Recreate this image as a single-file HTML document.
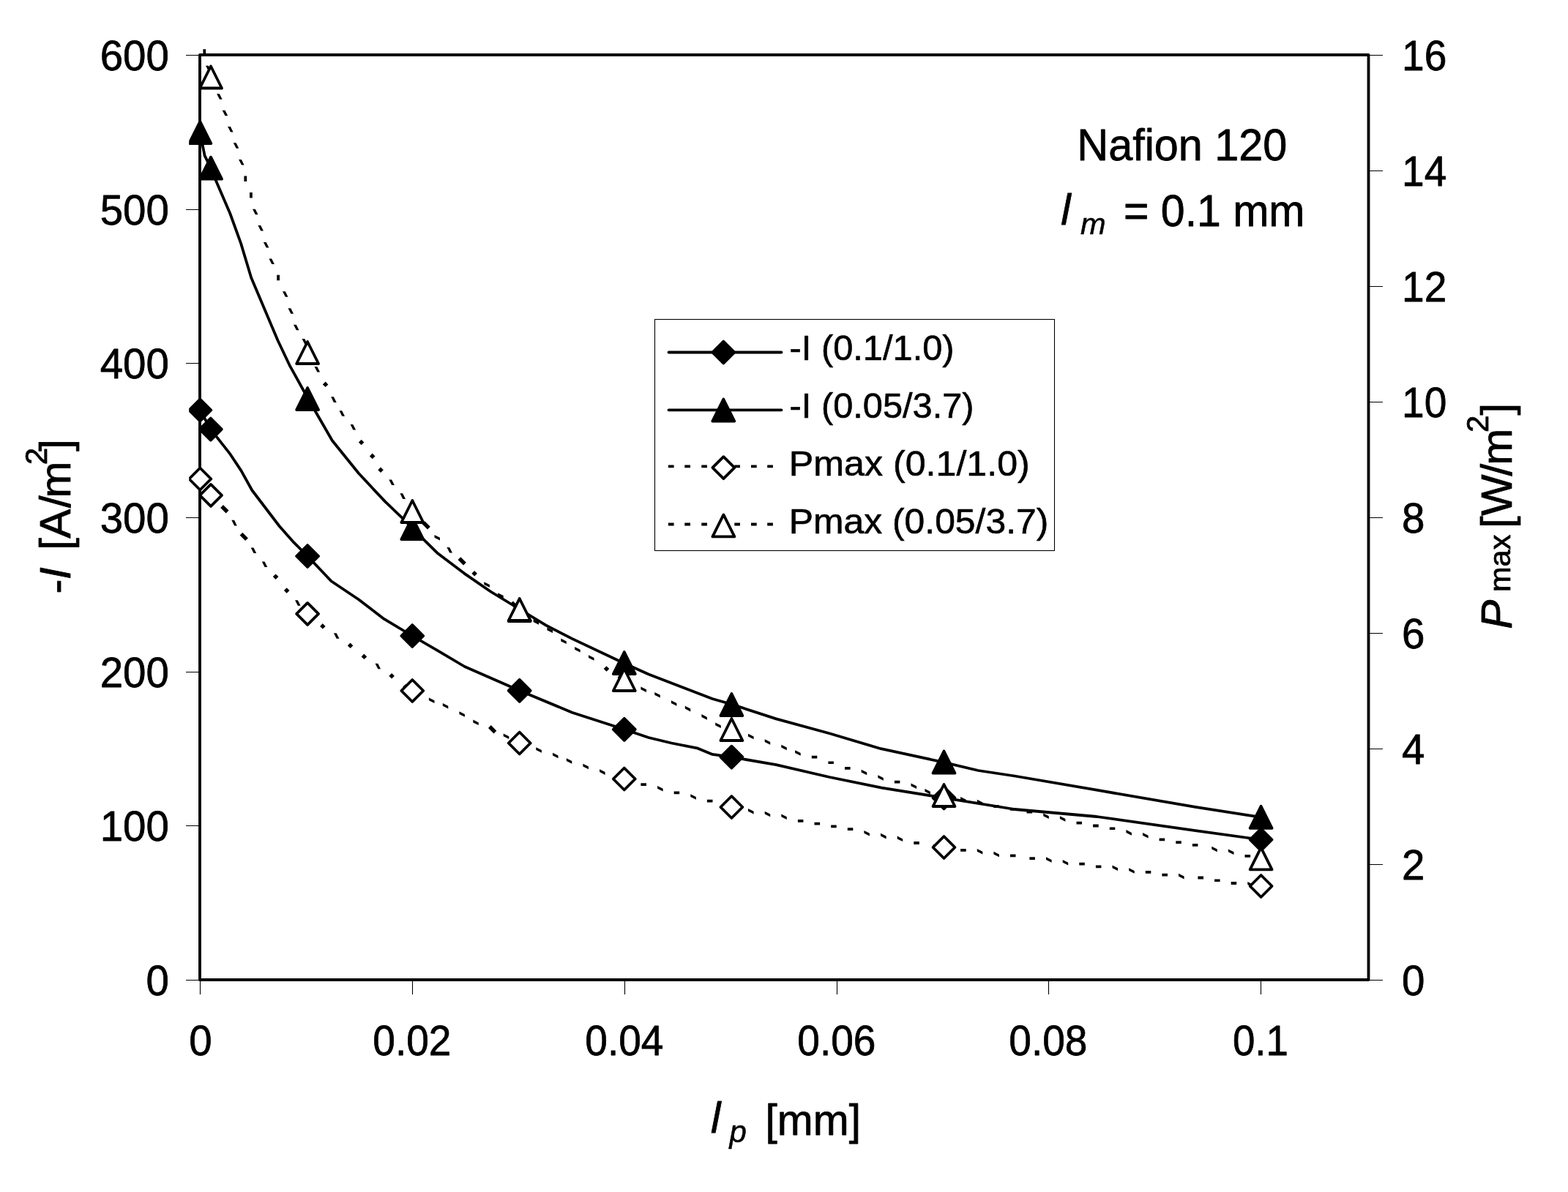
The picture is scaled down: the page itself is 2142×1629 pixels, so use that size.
<!DOCTYPE html>
<html lang="en"><head><meta charset="utf-8"><title>Nafion 120 chart</title>
<style>html,body{margin:0;padding:0;background:#fff}body{width:2142px;height:1629px;overflow:hidden}svg{display:block}text{font-family:'Liberation Sans', sans-serif;fill:#000;stroke:#000;stroke-width:.013em;stroke-linejoin:round}.i{font-style:italic}</style></head><body>
<svg width="2142" height="1629" viewBox="0 0 2142 1629">
<rect x="0" y="0" width="2142" height="1629" fill="#fff"/>
<defs><clipPath id="pc"><rect x="258.2" y="66.8" width="1626.3" height="1287.2"/></clipPath></defs>
<rect x="273" y="75" width="1596.5" height="1264" fill="none" stroke="#000" stroke-width="3.85" stroke-linejoin="round"/>
<path d="M254 1339.5H273M254 1128.5H273M254 918.5H273M254 707.5H273M254 496.5H273M254 286.5H273M254 75.5H273M1869.5 1339.5H1889M1869.5 1181.5H1889M1869.5 1023.5H1889M1869.5 865.5H1889M1869.5 707.5H1889M1869.5 549.5H1889M1869.5 391.5H1889M1869.5 233.5H1889M1869.5 75.5H1889M273.5 1339V1359M563.5 1339V1359M853.5 1339V1359M1143.5 1339V1359M1432.5 1339V1359M1722.5 1339V1359" fill="none" stroke="#000" stroke-width="1.1"/>
<g font-size="56.5">
<text x="230.9" transform="translate(0 1359.9) scale(1 1.025)" text-anchor="end">0</text>
<text x="230.9" transform="translate(0 1149.2) scale(1 1.025)" text-anchor="end">100</text>
<text x="230.9" transform="translate(0 938.6) scale(1 1.025)" text-anchor="end">200</text>
<text x="230.9" transform="translate(0 727.9) scale(1 1.025)" text-anchor="end">300</text>
<text x="230.9" transform="translate(0 517.2) scale(1 1.025)" text-anchor="end">400</text>
<text x="230.9" transform="translate(0 306.6) scale(1 1.025)" text-anchor="end">500</text>
<text x="230.9" transform="translate(0 95.9) scale(1 1.025)" text-anchor="end">600</text>
<text x="1915" transform="translate(0 1359.9) scale(1 1.025)">0</text>
<text x="1915" transform="translate(0 1201.9) scale(1 1.025)">2</text>
<text x="1915" transform="translate(0 1043.9) scale(1 1.025)">4</text>
<text x="1915" transform="translate(0 885.9) scale(1 1.025)">6</text>
<text x="1915" transform="translate(0 727.9) scale(1 1.025)">8</text>
<text x="1915" transform="translate(0 569.9) scale(1 1.025)" textLength="61.3" lengthAdjust="spacingAndGlyphs">10</text>
<text x="1915" transform="translate(0 411.9) scale(1 1.025)" textLength="61.3" lengthAdjust="spacingAndGlyphs">12</text>
<text x="1915" transform="translate(0 253.9) scale(1 1.025)" textLength="61.3" lengthAdjust="spacingAndGlyphs">14</text>
<text x="1915" transform="translate(0 95.9) scale(1 1.025)" textLength="61.3" lengthAdjust="spacingAndGlyphs">16</text>
<text x="274" transform="translate(0 1441.9) scale(1 1.025)" text-anchor="middle">0</text>
<text x="562.9" transform="translate(0 1441.9) scale(1 1.025)" text-anchor="middle" textLength="107.2" lengthAdjust="spacingAndGlyphs">0.02</text>
<text x="852.9" transform="translate(0 1441.9) scale(1 1.025)" text-anchor="middle" textLength="107.2" lengthAdjust="spacingAndGlyphs">0.04</text>
<text x="1142.9" transform="translate(0 1441.9) scale(1 1.025)" text-anchor="middle" textLength="107.2" lengthAdjust="spacingAndGlyphs">0.06</text>
<text x="1431.9" transform="translate(0 1441.9) scale(1 1.025)" text-anchor="middle" textLength="107.2" lengthAdjust="spacingAndGlyphs">0.08</text>
<text x="1721.9" transform="translate(0 1441.9) scale(1 1.025)" text-anchor="middle" textLength="76" lengthAdjust="spacingAndGlyphs">0.1</text>
</g>
<g clip-path="url(#pc)" stroke="#000" stroke-width="3.77" stroke-linejoin="round" stroke-linecap="round" fill="none">
<polyline points="273.3,560.5 287.8,586.6 314.5,620.7 329.4,643.1 344.3,670 381.6,719 401.5,741.4 420.1,760 452.6,794.3 489.9,819.2 524.7,845.9 563.3,869 600,890.3 634.8,911 709.7,943.8 781.6,973.7 852.8,996.8 886.1,1008 917.3,1015.5 953.3,1022.7 973.2,1030.9 999.4,1034.7 1060.3,1045.1 1133,1062 1204.5,1076.7 1289.5,1090.3 1386.1,1106 1498.1,1116 1633,1135.1 1722.6,1147.5"/>
<g><polygon points="273.3,545.5 288.3,560.5 273.3,575.5 258.3,560.5" fill="#000"/><polygon points="287.8,571.6 302.8,586.6 287.8,601.6 272.8,586.6" fill="#000"/><polygon points="420.1,745 435.1,760 420.1,775 405.1,760" fill="#000"/><polygon points="563.3,854 578.3,869 563.3,884 548.3,869" fill="#000"/><polygon points="709.7,928.8 724.7,943.8 709.7,958.8 694.7,943.8" fill="#000"/><polygon points="852.8,981.8 867.8,996.8 852.8,1011.8 837.8,996.8" fill="#000"/><polygon points="999.4,1019.7 1014.4,1034.7 999.4,1049.7 984.4,1034.7" fill="#000"/><polygon points="1289.5,1075.3 1304.5,1090.3 1289.5,1105.3 1274.5,1090.3" fill="#000"/><polygon points="1722.6,1132.5 1737.6,1147.5 1722.6,1162.5 1707.6,1147.5" fill="#000"/></g>
<polyline points="273.3,181 279.6,212.7 288,229.7 294.5,245.8 314.2,291.5 329.1,332.6 343.1,379.3 379.5,465.2 395.4,498.8 420.1,543.5 453.8,602 489.9,646.8 526,685.4 553.3,711.5 563.3,722 598.1,756.3 634.2,783.6 670.3,808.5 709.7,832.5 745.6,854.3 781.6,872.9 852.8,906.5 886.1,921.5 973.2,955 999.4,962.5 1060.3,982.4 1133,1002.3 1203.3,1023.2 1289.5,1041.8 1336.4,1053 1386.1,1060.5 1498.1,1079.7 1633,1102.8 1722.6,1116.8"/>
<g><polygon points="273.3,166 288.3,196 258.3,196" fill="#000"/><polygon points="288,214.7 303,244.7 273,244.7" fill="#000"/><polygon points="420.1,530 435.1,560 405.1,560" fill="#000"/><polygon points="563.3,707 578.3,737 548.3,737" fill="#000"/><polygon points="709.7,819 724.7,849 694.7,849" fill="#000"/><polygon points="852.8,891 867.8,921 837.8,921" fill="#000"/><polygon points="999.4,948 1014.4,978 984.4,978" fill="#000"/><polygon points="1289.5,1026.5 1304.5,1056.5 1274.5,1056.5" fill="#000"/><polygon points="1722.6,1101.8 1737.6,1131.8 1707.6,1131.8" fill="#000"/></g>
<path d="M271.4 654.5 275.2 654.5 279 662 275.2 662zM282.7 675.2 286.5 679 290.3 675.2 286.5 671.5zM286.1 678.8 289.9 682.6 293.7 678.8 289.9 675zM301.2 693.9 308.7 701.4 312.5 697.6 305 690.1zM316.3 710.8 320.1 710.8 323.8 718.4 320.1 718.4zM327.6 731.6 335.1 739.1 338.9 735.4 331.4 727.8zM342.7 748.5 346.5 748.5 350.2 756.1 346.5 756.1zM357.8 767.4 361.5 767.4 365.3 774.9 361.5 774.9zM372.8 788.1 376.6 791.9 380.4 788.1 376.6 784.4zM387.9 807 391.7 810.8 395.5 807 391.7 803.2zM403 820.2 406.8 820.2 410.6 827.7 406.8 827.7zM420.1 837 427.6 840.8 427.6 844.6 420.1 840.8zM437.1 855.9 440.8 859.6 444.6 855.9 440.8 852.1zM455.9 865.3 459.7 865.3 463.5 872.8 459.7 872.8zM474.8 882.3 478.6 886 482.3 882.3 478.6 878.5zM493.6 897.4 497.4 901.1 501.2 897.4 497.4 893.6zM512.5 906.8 516.3 906.8 520 914.3 516.3 914.3zM531.3 923.7 535.1 927.5 538.9 923.7 535.1 920zM550.2 938.8 554 942.6 557.7 938.8 554 935.1zM563.3 942.1 570.8 945.9 570.8 949.7 563.3 945.9zM585.9 953.4 593.5 957.2 593.5 961 585.9 957.2zM604.8 961 612.3 964.7 612.3 968.5 604.8 964.7zM627.4 972.3 634.9 976.1 634.9 979.8 627.4 976.1zM646.3 983.6 653.8 987.4 653.8 991.1 646.3 987.4zM667 994.9 674.5 1002.5 678.3 998.7 670.8 991.1zM687.7 1002.5 695.3 1006.2 695.3 1010 687.7 1006.2zM709.7 1013.6 717.2 1017.4 717.2 1021.2 709.7 1017.4zM732.3 1021.2 739.9 1024.9 739.9 1028.7 732.3 1024.9zM755 1028.7 762.5 1032.5 762.5 1036.2 755 1032.5zM773.8 1036.2 781.3 1040 781.3 1043.8 773.8 1040zM796.4 1043.8 804 1047.6 804 1051.3 796.4 1047.6zM819.1 1051.3 826.6 1055.1 826.6 1058.9 819.1 1055.1zM841.7 1058.9 849.2 1062.6 849.2 1066.4 841.7 1062.6zM852.8 1062.6 860.3 1066.4 860.3 1070.2 852.8 1066.4zM875.4 1070.2 883 1070.2 883 1073.9 875.4 1073.9zM898.1 1073.9 905.6 1077.7 905.6 1081.5 898.1 1077.7zM920.7 1081.5 928.2 1081.5 928.2 1085.2 920.7 1085.2zM943.3 1085.2 950.8 1089 950.8 1092.8 943.3 1089zM965.9 1092.8 973.5 1092.8 973.5 1096.6 965.9 1096.6zM988.6 1096.6 996.1 1100.3 996.1 1104.1 988.6 1100.3zM999.4 1101.1 1006.9 1101.1 1006.9 1104.9 999.4 1104.9zM1022 1104.9 1029.6 1108.7 1029.6 1112.4 1022 1108.7zM1044.7 1108.7 1052.2 1112.4 1052.2 1116.2 1044.7 1112.4zM1067.3 1112.4 1074.8 1116.2 1074.8 1120 1067.3 1116.2zM1089.9 1120 1097.4 1120 1097.4 1123.7 1089.9 1123.7zM1112.5 1123.7 1120.1 1123.7 1120.1 1127.5 1112.5 1127.5zM1135.2 1127.5 1142.7 1127.5 1142.7 1131.3 1135.2 1131.3zM1157.8 1131.3 1165.3 1131.3 1165.3 1135.1 1157.8 1135.1zM1180.4 1135.1 1187.9 1138.8 1187.9 1142.6 1180.4 1138.8zM1203 1138.8 1210.6 1142.6 1210.6 1146.4 1203 1142.6zM1225.7 1142.6 1233.2 1146.4 1233.2 1150.1 1225.7 1146.4zM1248.3 1150.1 1255.8 1150.1 1255.8 1153.9 1248.3 1153.9zM1274.7 1153.9 1282.2 1153.9 1282.2 1157.7 1274.7 1157.7zM1289.5 1156.1 1297 1156.1 1297 1159.9 1289.5 1159.9zM1312.1 1159.9 1319.7 1159.9 1319.7 1163.7 1312.1 1163.7zM1334.8 1159.9 1342.3 1163.7 1342.3 1167.4 1334.8 1163.7zM1357.4 1163.7 1364.9 1167.4 1364.9 1171.2 1357.4 1167.4zM1380 1167.4 1387.5 1167.4 1387.5 1171.2 1380 1171.2zM1406.4 1171.2 1413.9 1171.2 1413.9 1175 1406.4 1175zM1429 1171.2 1436.6 1175 1436.6 1178.7 1429 1175zM1451.7 1175 1459.2 1178.7 1459.2 1182.5 1451.7 1178.7zM1474.3 1178.7 1481.8 1178.7 1481.8 1182.5 1474.3 1182.5zM1496.9 1182.5 1504.4 1182.5 1504.4 1186.3 1496.9 1186.3zM1519.5 1182.5 1527.1 1186.3 1527.1 1190.1 1519.5 1186.3zM1542.2 1186.3 1549.7 1190.1 1549.7 1193.8 1542.2 1190.1zM1564.8 1190.1 1572.3 1190.1 1572.3 1193.8 1564.8 1193.8zM1587.4 1193.8 1595 1193.8 1595 1197.6 1587.4 1197.6zM1610 1193.8 1617.6 1197.6 1617.6 1201.4 1610 1197.6zM1636.4 1197.6 1644 1197.6 1644 1201.4 1636.4 1201.4zM1659.1 1201.4 1666.6 1201.4 1666.6 1205.1 1659.1 1205.1zM1681.7 1205.1 1689.2 1205.1 1689.2 1208.9 1681.7 1208.9zM1704.3 1205.1 1711.9 1208.9 1711.9 1212.7 1704.3 1208.9z" fill="#000" stroke="none"/>
<g><polygon points="273.3,639.5 288.3,654.5 273.3,669.5 258.3,654.5" fill="#fff"/><polygon points="288,661.9 303,676.9 288,691.9 273,676.9" fill="#fff"/><polygon points="420.1,823.9 435.1,838.9 420.1,853.9 405.1,838.9" fill="#fff"/><polygon points="563.3,929 578.3,944 563.3,959 548.3,944" fill="#fff"/><polygon points="709.7,1000.5 724.7,1015.5 709.7,1030.5 694.7,1015.5" fill="#fff"/><polygon points="852.8,1049.5 867.8,1064.5 852.8,1079.5 837.8,1064.5" fill="#fff"/><polygon points="999.4,1088 1014.4,1103 999.4,1118 984.4,1103" fill="#fff"/><polygon points="1289.5,1143 1304.5,1158 1289.5,1173 1274.5,1158" fill="#fff"/><polygon points="1722.6,1196 1737.6,1211 1722.6,1226 1707.6,1211" fill="#fff"/></g>
<path d="M277.4 67.2 281.2 67.2 281.2 74.7 277.4 74.7zM281 89.8 284.8 89.8 288.5 97.3 284.8 97.3zM296.1 128.2 299.9 128.2 303.6 135.7 299.9 135.7zM303.7 150.8 307.5 150.8 311.2 158.3 307.5 158.3zM311.1 172.9 314.9 172.9 318.6 180.4 314.9 180.4zM318.8 195.3 322.6 195.3 326.3 202.8 322.6 202.8zM326.1 218 329.9 218 333.6 225.5 329.9 225.5zM333.4 240.5 337.2 240.5 337.2 248 333.4 248zM341 263.1 344.8 263.1 344.8 270.6 341 270.6zM345 285.8 348.8 285.8 352.5 293.3 348.8 293.3zM352.4 308 356.2 308 359.9 315.5 356.2 315.5zM359.9 331 363.7 331 367.4 338.5 363.7 338.5zM367.4 353.5 371.2 353.5 374.9 361 371.2 361zM378.2 375.8 382 375.8 382 383.3 378.2 383.3zM386 398.3 389.8 398.3 393.5 405.8 389.8 405.8zM393.5 421.2 397.3 421.2 401 428.7 397.3 428.7zM401 443.8 404.8 443.8 408.5 451.3 404.8 451.3zM412.5 463 416.3 463 420 470.5 416.3 470.5zM418.2 482 422 482 425.8 489.5 422 489.5zM429.5 500.9 433.3 500.9 437.1 508.4 433.3 508.4zM440.8 525.4 444.6 529.1 448.4 525.4 444.6 521.6zM452.2 542.3 455.9 542.3 459.7 549.9 455.9 549.9zM463.5 561.2 467.2 561.2 471 568.7 467.2 568.7zM478.6 580 482.3 580 486.1 587.6 482.3 587.6zM489.9 604.6 493.6 608.3 497.4 604.6 493.6 600.8zM504.9 623.4 508.7 627.2 512.5 623.4 508.7 619.6zM516.3 642.3 520 646 523.8 642.3 520 638.5zM531.3 655.5 535.1 655.5 538.9 663 535.1 663zM546.4 674.3 550.2 674.3 554 681.9 550.2 681.9zM557.7 693.2 561.5 693.2 565.3 700.7 561.5 700.7zM561.4 700.9 565.2 704.7 569 700.9 565.2 697.1zM576.5 716 584 723.5 587.8 719.7 580.3 712.2zM593.5 731.1 601 734.8 601 738.6 593.5 734.8zM610.4 748 614.2 748 618 755.6 614.2 755.6zM625.5 765 633.1 772.5 636.8 768.8 629.3 761.2zM644.4 783.8 648.1 787.6 651.9 783.8 648.1 780.1zM661.3 795.2 668.9 798.9 668.9 802.7 661.3 798.9zM680.2 810.2 687.7 814 687.7 817.8 680.2 814zM697.2 825.3 704.7 832.9 708.5 829.1 700.9 821.6zM709.7 831.1 717.2 834.9 717.2 838.7 709.7 834.9zM728.6 846.2 736.1 850 736.1 853.7 728.6 850zM747.4 857.5 755 861.3 755 865.1 747.4 861.3zM766.3 872.6 773.8 876.4 773.8 880.1 766.3 876.4zM785.1 883.9 792.7 887.7 792.7 891.5 785.1 887.7zM804 895.2 811.5 899 811.5 902.8 804 899zM824.7 914.1 828.5 917.8 832.3 914.1 828.5 910.3zM843.6 925.4 847.3 929.2 851.1 925.4 847.3 921.6zM852.8 927.1 860.3 930.9 860.3 934.7 852.8 930.9zM875.4 938.4 883 942.2 883 946 875.4 942.2zM894.3 946 901.8 949.7 901.8 953.5 894.3 949.7zM916.9 957.3 924.4 961.1 924.4 964.8 916.9 961.1zM935.8 964.8 943.3 968.6 943.3 972.4 935.8 968.6zM958.4 976.1 965.9 979.9 965.9 983.7 958.4 979.9zM977.2 987.5 984.8 991.2 984.8 995 977.2 991.2zM999.4 995.1 1006.9 998.9 1006.9 1002.7 999.4 998.9zM1022 1002.7 1029.6 1006.4 1029.6 1010.2 1022 1006.4zM1044.7 1010.2 1052.2 1014 1052.2 1017.7 1044.7 1014zM1067.3 1017.7 1074.8 1021.5 1074.8 1025.3 1067.3 1021.5zM1086.1 1025.3 1093.7 1029.1 1093.7 1032.8 1086.1 1029.1zM1108.8 1032.8 1116.3 1032.8 1116.3 1036.6 1108.8 1036.6zM1131.4 1040.4 1138.9 1040.4 1138.9 1044.1 1131.4 1044.1zM1154 1047.9 1161.6 1047.9 1161.6 1051.7 1154 1051.7zM1176.6 1051.7 1184.2 1055.5 1184.2 1059.2 1176.6 1055.5zM1199.3 1059.2 1206.8 1063 1206.8 1066.8 1199.3 1063zM1221.9 1066.8 1229.4 1066.8 1229.4 1070.5 1221.9 1070.5zM1244.5 1070.5 1252.1 1074.3 1252.1 1078.1 1244.5 1074.3zM1263.4 1078.1 1270.9 1081.8 1270.9 1085.6 1263.4 1081.8zM1286 1085.6 1289.8 1085.6 1289.8 1089.4 1286 1089.4zM1289.5 1085.1 1297 1085.1 1297 1088.9 1289.5 1088.9zM1312.1 1088.9 1319.7 1092.7 1319.7 1096.4 1312.1 1092.7zM1334.8 1092.7 1342.3 1096.4 1342.3 1100.2 1334.8 1096.4zM1357.4 1100.2 1364.9 1100.2 1364.9 1104 1357.4 1104zM1380 1104 1387.5 1104 1387.5 1107.7 1380 1107.7zM1402.6 1107.7 1410.2 1107.7 1410.2 1111.5 1402.6 1111.5zM1425.3 1111.5 1432.8 1115.3 1432.8 1119.1 1425.3 1115.3zM1447.9 1115.3 1455.4 1119.1 1455.4 1122.8 1447.9 1119.1zM1470.5 1122.8 1478 1122.8 1478 1126.6 1470.5 1126.6zM1493.1 1126.6 1500.7 1126.6 1500.7 1130.4 1493.1 1130.4zM1515.8 1130.4 1523.3 1130.4 1523.3 1134.1 1515.8 1134.1zM1538.4 1134.1 1545.9 1137.9 1545.9 1141.7 1538.4 1137.9zM1561 1137.9 1568.6 1141.7 1568.6 1145.5 1561 1141.7zM1583.6 1145.5 1591.2 1145.5 1591.2 1149.2 1583.6 1149.2zM1606.3 1149.2 1613.8 1149.2 1613.8 1153 1606.3 1153zM1628.9 1153 1636.4 1153 1636.4 1156.8 1628.9 1156.8zM1655.3 1156.8 1662.8 1160.5 1662.8 1164.3 1655.3 1160.5zM1677.9 1160.5 1685.5 1164.3 1685.5 1168.1 1677.9 1164.3zM1700.5 1168.1 1708.1 1168.1 1708.1 1171.8 1700.5 1171.8z" fill="#000" stroke="none"/>
<g><polygon points="288,90.5 303,120.5 273,120.5" fill="#fff"/><polygon points="420.1,467 435.1,497 405.1,497" fill="#fff"/><polygon points="563.3,684 578.3,714 548.3,714" fill="#fff"/><polygon points="709.7,818 724.7,848 694.7,848" fill="#fff"/><polygon points="852.8,914 867.8,944 837.8,944" fill="#fff"/><polygon points="999.4,982 1014.4,1012 984.4,1012" fill="#fff"/><polygon points="1289.5,1072 1304.5,1102 1274.5,1102" fill="#fff"/><polygon points="1722.6,1158.3 1737.6,1188.3 1707.6,1188.3" fill="#fff"/></g>
</g>
<g font-size="60">
<text x="1471.3" transform="translate(0 219.4) scale(1 1.02)" textLength="287" lengthAdjust="spacingAndGlyphs">Nafion 120</text>
<text x="1449.3" y="307" class="i">l</text>
<text x="1476" y="319.6" class="i" font-size="41.5">m</text>
<text x="1535" transform="translate(0 309.1) scale(1 1.02)" textLength="247.5" lengthAdjust="spacingAndGlyphs">= 0.1 mm</text>
</g>
<rect x="894.5" y="436.5" width="546" height="316" fill="#fff" stroke="#000" stroke-width="1.1"/>
<g stroke="#000" stroke-width="3.8" stroke-linejoin="round" stroke-linecap="round" fill="none">
<path d="M913.5 481.5H1067.5M913.5 560.3H1067.5"/>
<polygon points="988.3,466.5 1003.3,481.5 988.3,496.5 973.3,481.5" fill="#000"/>
<polygon points="988.3,545.5 1003.3,575.5 973.3,575.5" fill="#000"/>
<path d="M912.9 637.4h7.7M935.3 637.4h7.7M958.3 637.4h7.7M1003.3 637.4h7.7M1026 637.4h7.7M1048.2 637.4h7.7M912.9 716.5h7.7M935.3 716.5h7.7M958.3 716.5h7.7M1003.3 716.5h7.7M1026 716.5h7.7M1048.2 716.5h7.7" stroke-linecap="butt"/>
<polygon points="988.4,624.2 1003.4,639.2 988.4,654.2 973.4,639.2" fill="#fff"/>
<polygon points="988.4,703.4 1003.4,733.4 973.4,733.4" fill="#fff"/>
</g>
<g font-size="47.3">
<text x="1078.6" transform="translate(0 491.8) scale(1 1.02)" textLength="225" lengthAdjust="spacingAndGlyphs">-I (0.1/1.0)</text>
<text x="1078.6" transform="translate(0 571.1) scale(1 1.02)" textLength="252" lengthAdjust="spacingAndGlyphs">-I (0.05/3.7)</text>
<text x="1077.8" transform="translate(0 650.2) scale(1 1.02)" textLength="329" lengthAdjust="spacingAndGlyphs">Pmax (0.1/1.0)</text>
<text x="1077.8" transform="translate(0 728.7) scale(1 1.02)" textLength="354.5" lengthAdjust="spacingAndGlyphs">Pmax (0.05/3.7)</text>
</g>
<g font-size="60">
<text x="971" y="1548" class="i">l</text>
<text x="996.6" y="1561" class="i" font-size="42">p</text>
<text x="1045.5" y="1551" textLength="130.5" lengthAdjust="spacingAndGlyphs">[mm]</text>
<text transform="translate(96.1 811) rotate(-90)"><tspan x="-0.5" y="0">-</tspan><tspan class="i" x="18.9">I</tspan><tspan x="43"> </tspan><tspan x="59.3">[</tspan><tspan x="75.2">A</tspan><tspan x="117">/</tspan><tspan x="130.4">m</tspan><tspan x="175.8" y="-31.9" font-size="42">2</tspan><tspan x="194.2" y="0">]</tspan></text>
<text transform="translate(2065 861) rotate(-90)"><tspan class="i" x="1.3" y="0">P</tspan><tspan x="52" y="-2.4" font-size="41.5">max</tspan><tspan x="128" y="0"> </tspan><tspan x="139">[</tspan><tspan x="156">W</tspan><tspan x="210.5">/</tspan><tspan x="225.3">m</tspan><tspan x="270" y="-32.2" font-size="42">2</tspan><tspan x="293.5" y="0">]</tspan></text>
</g>
</svg></body></html>
